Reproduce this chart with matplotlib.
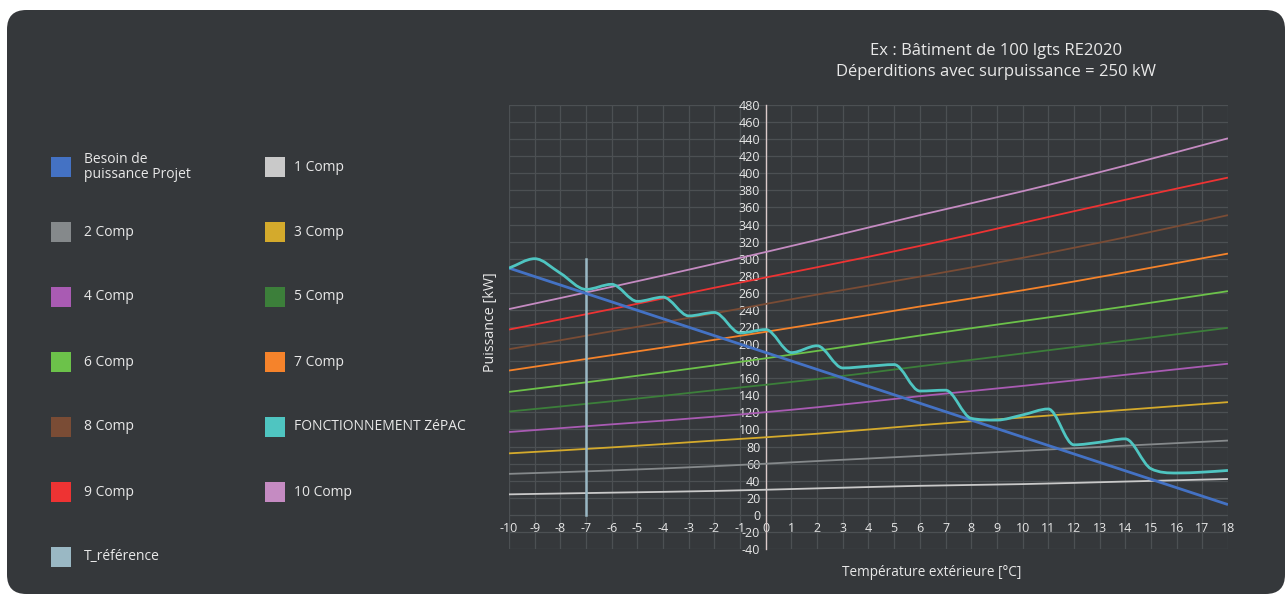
import numpy as np
import matplotlib
matplotlib.use("Agg")
import matplotlib.pyplot as plt
from matplotlib.path import Path
from matplotlib.patches import PathPatch, Rectangle, FancyBboxPatch

plt.rcParams["font.family"] = ["Open Sans", "DejaVu Sans"]
plt.rcParams["axes.unicode_minus"] = False

# --- data (kW vs outdoor temperature in °C) ---
temps = [-10, -6, -2, 2, 6, 10, 14, 18]
comp_1 = [24, 26, 28, 31, 34, 36, 39, 42]
comp_2 = [48, 52, 57, 63, 69, 75, 81, 87]
comp_3 = [72, 79, 87, 95, 105, 114, 123, 132]
comp_4 = [97, 106, 115, 126, 139, 151, 164, 177]
comp_5 = [121, 133, 146, 159, 174, 189, 204, 219]
comp_6 = [144, 159, 175, 192, 210, 227, 244, 262]
comp_7 = [169, 187, 205, 224, 244, 263, 284, 306]
comp_8 = [194, 215, 236, 258, 279, 301, 325, 351]
comp_9 = [217, 241, 266, 290, 315, 342, 369, 395]
comp_10 = [241, 267, 294, 322, 351, 379, 409, 441]

besoin_temps = [-10, 18]
besoin = [289, 12]

zepac_temps = list(range(-10, 19))
zepac = [289, 300, 283, 264, 270, 250, 255, 233, 237, 213, 217, 190, 198,
         172, 174, 176, 145, 146, 113, 111, 117, 124, 82, 85, 89, 54, 49, 50, 52]

t_ref = -7
t_ref_range = [0, 300]

x_ticks = list(range(-10, 19))
y_ticks = list(range(-40, 481, 20))

colors = {
    "Besoin de\npuissance Projet": "#4472c4",
    "1 Comp": "#c9c9c9",
    "2 Comp": "#85898b",
    "3 Comp": "#d4aa2c",
    "4 Comp": "#a95bb3",
    "5 Comp": "#3c7f3a",
    "6 Comp": "#6cc24a",
    "7 Comp": "#f5832b",
    "8 Comp": "#7a4c35",
    "FONCTIONNEMENT ZéPAC": "#4fc5c1",
    "9 Comp": "#ee3333",
    "10 Comp": "#c58bc2",
    "T_référence": "#9ab8c4",
}
comps = [comp_1, comp_2, comp_3, comp_4, comp_5, comp_6, comp_7, comp_8, comp_9, comp_10]
comp_names = ["%d Comp" % (i + 1) for i in range(10)]


def smooth_path(xs, ys):
    # monotone cubic (like Chart.js "monotone") turned into bezier segments
    x = np.asarray(xs, float)
    y = np.asarray(ys, float)
    h = np.diff(x)
    d = np.diff(y) / h
    n = len(x)
    m = np.zeros(n)
    m[0], m[-1] = d[0], d[-1]
    for i in range(1, n - 1):
        m[i] = 0 if d[i - 1] * d[i] <= 0 else (d[i - 1] + d[i]) / 2
    for i in range(n - 1):
        if d[i] == 0:
            m[i] = m[i + 1] = 0
            continue
        a, b = m[i] / d[i], m[i + 1] / d[i]
        s = a * a + b * b
        if s > 9:
            t = 3 / np.sqrt(s)
            m[i], m[i + 1] = t * a * d[i], t * b * d[i]
    verts = [(x[0], y[0])]
    codes = [Path.MOVETO]
    for i in range(n - 1):
        verts += [(x[i] + h[i] / 3, y[i] + m[i] * h[i] / 3),
                  (x[i + 1] - h[i] / 3, y[i + 1] - m[i + 1] * h[i] / 3),
                  (x[i + 1], y[i + 1])]
        codes += [Path.CURVE4] * 3
    return Path(verts, codes)


W, H = 1288, 597
fig = plt.figure(figsize=(W / 100, H / 100), dpi=100, facecolor="white")

bg = "#35383b"
panel = FancyBboxPatch((7 / W, 3 / H), 1278 / W, 584 / H,
                       boxstyle="round,pad=0,rounding_size=0.015",
                       transform=fig.transFigure, facecolor=bg, edgecolor="none",
                       mutation_aspect=W / H, zorder=-10)
fig.add_artist(panel)

ax = fig.add_axes([509 / W, 1 - 549 / H, 719 / W, 444 / H])
ax.set_facecolor("none")
ax.set_xlim(-10, 18)
ax.set_ylim(-40, 480)
ax.set_xticks(x_ticks)
ax.set_yticks(y_ticks)
ax.grid(True, color="#4c5053", lw=0.9)
ax.set_axisbelow(True)

ax.spines["left"].set_position(("data", 0))
ax.spines["left"].set_color("#dccaca")
ax.spines["left"].set_linewidth(1.0)
ax.spines["bottom"].set_position(("data", 0))
ax.spines["bottom"].set_color("none")
ax.spines["top"].set_visible(False)
ax.spines["right"].set_visible(False)
ax.tick_params(axis="both", length=0, labelcolor="#e8e8e8", labelsize=9)
ax.tick_params(axis="x", pad=5)
ax.tick_params(axis="y", pad=4)

for name, vals in zip(comp_names, comps):
    ax.add_patch(PathPatch(smooth_path(temps, vals), fill=False,
                           edgecolor=colors[name], lw=1.3, zorder=3))

ax.plot([t_ref, t_ref], t_ref_range, color=colors["T_référence"], lw=1.8, zorder=3)
ax.plot(besoin_temps, besoin, color=colors["Besoin de\npuissance Projet"], lw=2.0,
        zorder=4, solid_capstyle="butt")
ax.add_patch(PathPatch(smooth_path(zepac_temps, zepac), fill=False,
                       edgecolor=colors["FONCTIONNEMENT ZéPAC"], lw=2.0, zorder=5))

txt = "#e8e8e8"
fig.text(996 / W, 1 - 51 / H, "Ex : Bâtiment de 100 lgts RE2020", ha="center",
         va="center", color=txt, fontsize=12)
fig.text(996 / W, 1 - 72 / H, "Déperditions avec surpuissance = 250 kW", ha="center",
         va="center", color=txt, fontsize=12)
fig.text(490 / W, 1 - 322 / H, "Puissance [kW]", rotation=90, ha="center",
         va="center", color=txt, fontsize=10.3)
fig.text(932 / W, 1 - 573 / H, "Température extérieure [°C]", ha="center",
         va="center", color=txt, fontsize=9.8)

# legend, two columns filled row by row
legend_order = ["Besoin de\npuissance Projet", "1 Comp", "2 Comp", "3 Comp", "4 Comp",
                "5 Comp", "6 Comp", "7 Comp", "8 Comp", "FONCTIONNEMENT ZéPAC",
                "9 Comp", "10 Comp", "T_référence"]
for k, name in enumerate(legend_order):
    row, col = divmod(k, 2)
    yc = 167 + row * 65.0
    sx = 51 if col == 0 else 265
    tx = 84 if col == 0 else 294
    fig.add_artist(Rectangle((sx / W, 1 - (yc + 10) / H), 20 / W, 20 / H,
                             transform=fig.transFigure, facecolor=colors[name],
                             edgecolor="none"))
    fig.text(tx / W, 1 - yc / H, name, ha="left", va="center", color=txt,
             fontsize=10, linespacing=0.95)

fig.savefig("out.png", dpi=100, facecolor="white")
